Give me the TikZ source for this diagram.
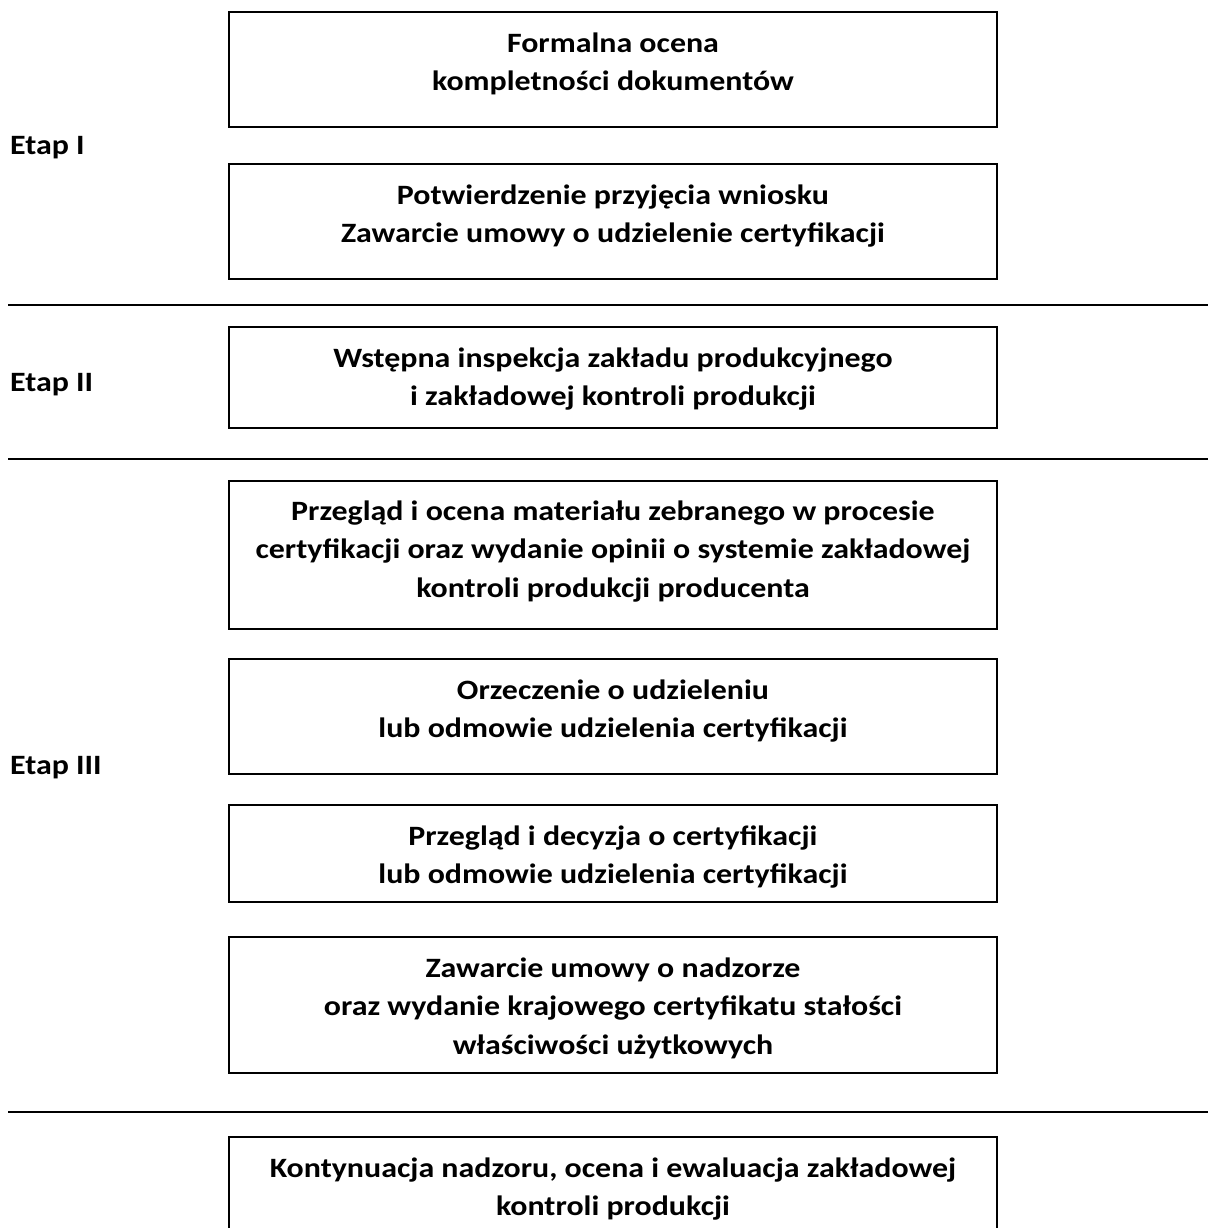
\documentclass[tikz,border=0pt]{standalone}
\usepackage{fontspec}
\setmainfont{Carlito}[FakeStretch=1.14]
\newcommand\fstrut{\rule{0pt}{24pt}}
\begin{document}
\begin{tikzpicture}[x=1pt,y=-1pt,
  stagebox/.style={draw=black,line width=2pt,minimum width=768pt,inner sep=0pt},
  boxtext/.style={anchor=north,inner sep=0pt,align=center,font=\fontsize{28}{38.5}\selectfont\bfseries},
  etap/.style={anchor=base west,inner sep=0pt,font=\fontsize{28}{38.5}\selectfont\bfseries},
  sep/.style={draw=black,line width=2pt}]
\useasboundingbox (0,0) rectangle (1208,1228);
\clip (0,0) rectangle (1208,1228);
% boxes
\node[stagebox,minimum height=115pt] (b1) at (613,69.5) {};
\node[stagebox,minimum height=115pt] (b2) at (613,221.5) {};
\node[stagebox,minimum height=101pt] (b3) at (613,377.5) {};
\node[stagebox,minimum height=148pt] (b4) at (613,555) {};
\node[stagebox,minimum height=115pt] (b5) at (613,716.5) {};
\node[stagebox,minimum height=97pt] (b6) at (613,853.5) {};
\node[stagebox,minimum height=136pt] (b7) at (613,1005) {};
\node[stagebox,minimum height=120pt] (b8) at (613,1197) {};
% texts
\node[boxtext] (t1) at ([yshift=-17pt]b1.north) {\fstrut Formalna ocena\\kompletności dokumentów};
\node[boxtext] (t2) at ([yshift=-17pt]b2.north) {\fstrut Potwierdzenie przyjęcia wniosku\\Zawarcie umowy o udzielenie certyfikacji};
\node[boxtext] (t3) at ([yshift=-17pt]b3.north) {\fstrut Wstępna inspekcja zakładu produkcyjnego\\i zakładowej kontroli produkcji};
\node[boxtext] (t4) at ([yshift=-16pt]b4.north) {\fstrut Przegląd i ocena materiału zebranego w procesie\\certyfikacji oraz wydanie opinii o systemie zakładowej\\kontroli produkcji producenta};
\node[boxtext] (t5) at ([yshift=-17pt]b5.north) {\fstrut Orzeczenie o udzieleniu\\lub odmowie udzielenia certyfikacji};
\node[boxtext] (t6) at ([yshift=-17pt]b6.north) {\fstrut Przegląd i decyzja o certyfikacji\\lub odmowie udzielenia certyfikacji};
\node[boxtext] (t7) at ([yshift=-17pt]b7.north) {\fstrut Zawarcie umowy o nadzorze\\oraz wydanie krajowego certyfikatu stałości\\właściwości użytkowych};
\node[boxtext] (t8) at ([yshift=-17pt]b8.north) {\fstrut Kontynuacja nadzoru, ocena i ewaluacja zakładowej\\kontroli produkcji};
% stage labels
\node[etap] (e1) at (10,154) {Etap I};
\node[etap] (e2) at (10,391) {Etap II};
\node[etap] (e3) at (10,774) {Etap III};
% separators
\draw[sep] (8,305) -- (1208,305);
\draw[sep] (8,459) -- (1208,459);
\draw[sep] (8,1112) -- (1208,1112);
\end{tikzpicture}
\end{document}
